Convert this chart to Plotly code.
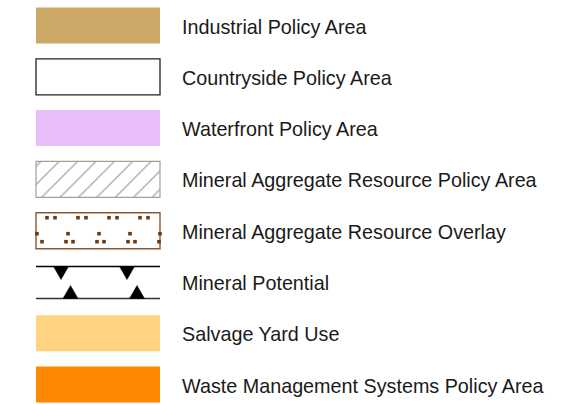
import plotly.graph_objects as go

# ---- legend content ----
labels = [
    "Industrial Policy Area",
    "Countryside Policy Area",
    "Waterfront Policy Area",
    "Mineral Aggregate Resource Policy Area",
    "Mineral Aggregate Resource Overlay",
    "Mineral Potential",
    "Salvage Yard Use",
    "Waste Management Systems Policy Area",
]
swatch_kind = ["fill", "outline", "fill", "hatch", "dots", "potential", "fill", "fill"]
fill_colors = ["#CCA866", "#FFFFFF", "#E8BEFA", "#FFFFFF", "#FFFFFF", None, "#FFD380", "#FF8600"]

# ---- layout geometry ----
W, H = 578, 404
row0, row_step = 25.5, 51.3
sw_x0, sw_x1, sw_half = 36, 160, 18
text_x = 180

fig = go.Figure()

def yc(i):
    return row0 + i * row_step

for i, (kind, col) in enumerate(zip(swatch_kind, fill_colors)):
    c = yc(i)
    if kind in ("fill", "outline", "hatch", "dots"):
        marker = dict(color=col, line=dict(width=0))
        if kind == "outline":
            marker["line"] = dict(color="#222222", width=1.3)
        if kind == "hatch":
            marker["line"] = dict(color="#A0A0A0", width=1.2)
            marker["pattern"] = dict(shape="/", fgcolor="#A6A6A6", bgcolor="#FFFFFF",
                                     size=13, solidity=0.1, fillmode="replace")
        if kind == "dots":
            marker["line"] = dict(color="#8C5A32", width=1.4)
        fig.add_trace(go.Bar(orientation="h", y=[c], x=[sw_x1 - sw_x0], base=[sw_x0],
                             width=[2 * sw_half], marker=marker, hoverinfo="skip",
                             showlegend=False))
    if kind == "dots":
        tile = 31
        xs, ys = [], []
        for k in range(4):
            t = sw_x0 + k * tile
            xs += [t + 11, t + 19]; ys += [c - 13, c - 13]
        for k in range(5):
            t = sw_x0 + k * tile
            xs.append(min(t + 1, sw_x1)); ys.append(c + 3)
        for k in range(4):
            t = sw_x0 + k * tile
            xs.append(t + 6); ys.append(c + 11)
        for k in range(1, 5):
            t = sw_x0 + k * tile
            xs.append(t - 1); ys.append(c + 11)
        fig.add_trace(go.Scatter(x=xs, y=ys, mode="markers",
                                 marker=dict(symbol="square", size=3.6, color="#6B3A12",
                                             line=dict(width=0)),
                                 hoverinfo="skip", showlegend=False))
    if kind == "potential":
        top, bot = c - 15.5, c + 16.5
        for yy, lc in ((top, "#000000"), (bot, "#333333")):
            fig.add_trace(go.Scatter(x=[sw_x0, sw_x1], y=[yy, yy], mode="lines",
                                     line=dict(color=lc, width=1.5),
                                     hoverinfo="skip", showlegend=False))
        tx, ty = [], []
        half_w, tri_h = 7.5, 13
        for cx in (61, 127):
            tx += [cx - half_w, cx + half_w, cx, cx - half_w, None]
            ty += [top, top, top + tri_h, top, None]
        for cx in (70.5, 137):
            tx += [cx - half_w, cx + half_w, cx, cx - half_w, None]
            ty += [bot, bot, bot - tri_h, bot, None]
        fig.add_trace(go.Scatter(x=tx, y=ty, mode="lines", fill="toself",
                                 fillcolor="#000000", line=dict(color="#000000", width=0.5),
                                 hoverinfo="skip", showlegend=False))

for i, lab in enumerate(labels):
    fig.add_annotation(x=text_x, y=yc(i) + 1, text=lab, showarrow=False,
                       xanchor="left", yanchor="middle",
                       font=dict(family="Liberation Sans, Arial, sans-serif",
                                 size=19.75, color="#1A1A1A"))

fig.update_layout(
    width=W, height=H,
    margin=dict(l=0, r=0, t=0, b=0),
    paper_bgcolor="#FFFFFF", plot_bgcolor="#FFFFFF",
    xaxis=dict(range=[0, W], visible=False, fixedrange=True),
    yaxis=dict(range=[H, 0], visible=False, fixedrange=True),
    barmode="overlay",
)

fig.write_html("out.html", config={"displayModeBar": False},
               post_script="document.body.style.margin='0';document.body.style.overflow='hidden';")
